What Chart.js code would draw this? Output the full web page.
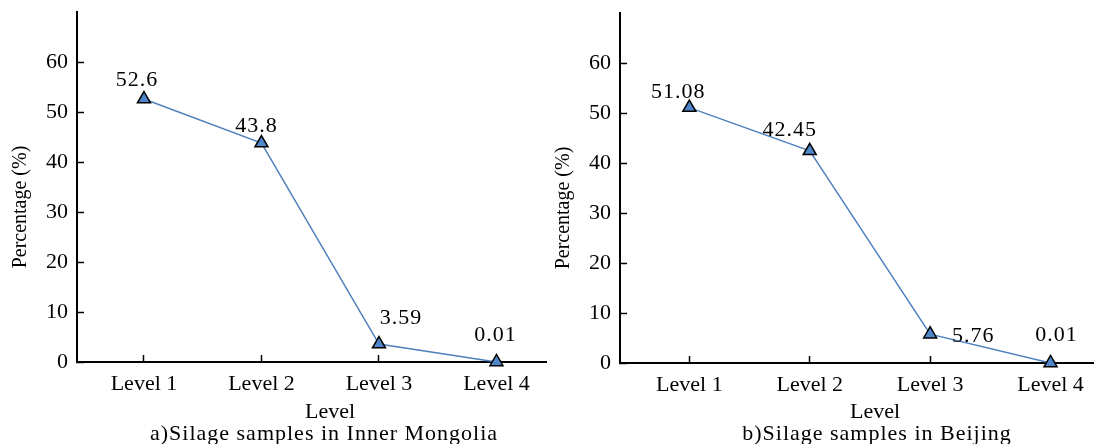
<!DOCTYPE html>
<html>
<head>
<meta charset="utf-8">
<script src="https://cdn.jsdelivr.net/npm/chart.js@4.4.1/dist/chart.umd.min.js"></script>
<style>
  body { margin: 0; background: #fff; }
  .wrap { position: relative; width: 1094px; height: 444px; }
  canvas { position: absolute; top: 0; }
</style>
</head>
<body>
<div class="wrap">
  <canvas id="chartA" width="547" height="444" style="left:0"></canvas>
  <canvas id="chartB" width="547" height="444" style="left:547px"></canvas>
</div>
<script>
// Data
const levels = ["Level 1", "Level 2", "Level 3", "Level 4"]
const innerMongolia = [52.6, 43.8, 3.59, 0.01]
const beijing = [51.08, 42.45, 5.76, 0.01]
const yTicks = [0, 10, 20, 30, 40, 50, 60]

const FONT = "'Liberation Serif', 'Times New Roman', serif"
Chart.defaults.font.family = FONT
Chart.defaults.font.size = 22
Chart.defaults.color = "#000"

// value labels, axis titles and caption
const textPlugin = {
  id: "panelText",
  afterDraw(chart, args, opts) {
    const ctx = chart.ctx
    const area = chart.chartArea
    const meta = chart.getDatasetMeta(0)
    ctx.save()
    ctx.fillStyle = "#000"
    ctx.font = "22px " + FONT
    ctx.letterSpacing = "1px"
    ctx.textAlign = "center"
    ctx.textBaseline = "middle"
    meta.data.forEach((pt, i) => {
      const [dx, dy] = opts.labelOffsets[i]
      ctx.fillText(String(opts.values[i]), pt.x + dx, pt.y + dy)
    })
    ctx.textBaseline = "alphabetic"
    ctx.fillText(opts.caption, area.left + opts.captionX, 440)
    ctx.letterSpacing = "0px"
    ctx.fillText("Level", area.left + opts.levelX, 418)
    ctx.font = "20px " + FONT
    ctx.translate(area.left - 56, area.top + 195)
    ctx.rotate(-Math.PI / 2)
    ctx.textBaseline = "middle"
    ctx.fillText("Percentage (%)", 0, 0)
    ctx.restore()
  },
}

// drop the label padding chart.js adds at the ends of each axis
function noEdgePadding(s) {
  s.paddingTop = 0
  s.paddingBottom = 0
  s.paddingLeft = 0
  s.paddingRight = 0
}

function makePanel(id, values, o) {
  new Chart(document.getElementById(id), {
    type: "line",
    data: {
      datasets: [
        {
          data: values.map((v, i) => ({ x: i + 1, y: v })),
          borderColor: "#4F81BD",
          borderWidth: 1.5,
          pointStyle: "triangle",
          pointRadius: 7.5,
          pointBackgroundColor: "#4F86CA",
          pointBorderColor: "#000",
          pointBorderWidth: 1.5,
          clip: false,
          tension: 0,
        },
      ],
    },
    options: {
      responsive: false,
      animation: false,
      events: [],
      layout: { autoPadding: false, padding: { top: o.top, left: 0, right: 0, bottom: 0 } },
      plugins: {
        legend: { display: false },
        tooltip: { enabled: false },
        panelText: {
          values: values,
          labelOffsets: o.labelOffsets,
          caption: o.caption,
          levelX: o.levelX,
          captionX: o.captionX,
        },
      },
      scales: {
        x: {
          type: "linear",
          min: o.xMin,
          max: o.xMax,
          afterBuildTicks: (s) => {
            s.ticks = levels.map((_, i) => ({ value: i + 1 }))
          },
          afterFit: (s) => {
            s.height = o.xHeight
            noEdgePadding(s)
          },
          ticks: {
            callback: (v) => levels[v - 1],
            padding: 16,
            maxRotation: 0,
            autoSkip: false,
          },
          grid: { drawOnChartArea: false, tickLength: -7, tickColor: "#000", tickWidth: 1.5 },
          border: { display: true, color: "#000", width: 2 },
        },
        y: {
          min: 0,
          max: 70,
          afterBuildTicks: (s) => {
            s.ticks = yTicks.map((v) => ({ value: v }))
          },
          afterFit: (s) => {
            s.width = o.yWidth
            noEdgePadding(s)
          },
          ticks: { padding: 16 },
          grid: { drawOnChartArea: false, tickLength: -7, tickColor: "#000", tickWidth: 1.5 },
          border: { display: true, color: "#000", width: 2 },
        },
      },
    },
    plugins: [textPlugin],
  })
}

makePanel("chartA", innerMongolia, {
  caption: "a)Silage samples in Inner Mongolia",
  top: 12,
  xHeight: 82,
  yWidth: 77,
  xMin: 0.43,
  xMax: 4.43,
  levelX: 253,
  captionX: 247,
  labelOffsets: [[-7, -19], [-5, -17], [22, -26], [-1, -27]],
})

makePanel("chartB", beijing, {
  caption: "b)Silage samples in Beijing",
  top: 13,
  xHeight: 81,
  yWidth: 73,
  xMin: 0.424,
  xMax: 4.361,
  levelX: 255,
  captionX: 257,
  labelOffsets: [[-11, -15], [-20, -21], [43, 2], [6, -28]],
})
</script>
</body>
</html>
